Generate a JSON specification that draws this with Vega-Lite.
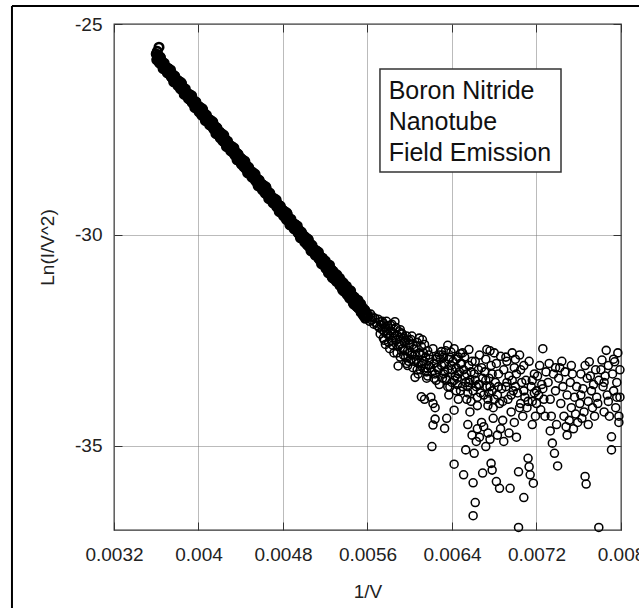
{
  "$schema": "https://vega.github.io/schema/vega-lite/v6.json",
  "width": 507,
  "height": 506,
  "autosize": {"type": "none"},
  "padding": {"left": 114, "top": 24, "right": 18, "bottom": 78},
  "background": "white",
  "config": {
    "font": "Liberation Sans",
    "view": {"stroke": "#333", "strokeWidth": 1.3},
    "axis": {
      "domain": false,
      "grid": true,
      "gridColor": "#777",
      "gridDash": [1, 1],
      "gridWidth": 1,
      "ticks": true,
      "tickSize": -8,
      "tickColor": "#333",
      "tickWidth": 1,
      "labelFont": "Liberation Sans",
      "labelFontSize": 19,
      "labelColor": "#222",
      "labelOverlap": false,
      "labelFlush": false,
      "labelBound": false,
      "titleFont": "Liberation Sans",
      "titleFontSize": 19,
      "titleFontWeight": "normal",
      "titleColor": "#222"
    }
  },
  "data": {
    "values": [
      {"inv_v":0.003626,"ln_iv2":-25.55},{"inv_v":0.00361,"ln_iv2":-25.65},
      {"inv_v":0.0036,"ln_iv2":-25.71},{"inv_v":0.00361,"ln_iv2":-25.83},{"inv_v":0.00362,"ln_iv2":-25.80},{"inv_v":0.00363,"ln_iv2":-25.92},{"inv_v":0.00364,"ln_iv2":-25.80},{"inv_v":0.00365,"ln_iv2":-25.93},{"inv_v":0.00366,"ln_iv2":-25.91},{"inv_v":0.00367,"ln_iv2":-26.04},{"inv_v":0.00368,"ln_iv2":-26.00},{"inv_v":0.00369,"ln_iv2":-26.07},
      {"inv_v":0.0037,"ln_iv2":-26.10},{"inv_v":0.00371,"ln_iv2":-26.05},{"inv_v":0.00372,"ln_iv2":-26.17},{"inv_v":0.00373,"ln_iv2":-26.13},{"inv_v":0.00374,"ln_iv2":-26.24},{"inv_v":0.00375,"ln_iv2":-26.19},{"inv_v":0.00376,"ln_iv2":-26.29},{"inv_v":0.00377,"ln_iv2":-26.23},{"inv_v":0.00378,"ln_iv2":-26.37},{"inv_v":0.00379,"ln_iv2":-26.33},
      {"inv_v":0.0038,"ln_iv2":-26.33},{"inv_v":0.00381,"ln_iv2":-26.45},{"inv_v":0.00382,"ln_iv2":-26.42},{"inv_v":0.00383,"ln_iv2":-26.54},{"inv_v":0.00384,"ln_iv2":-26.42},{"inv_v":0.00385,"ln_iv2":-26.55},{"inv_v":0.00386,"ln_iv2":-26.53},{"inv_v":0.00387,"ln_iv2":-26.66},{"inv_v":0.00388,"ln_iv2":-26.62},{"inv_v":0.00389,"ln_iv2":-26.69},
      {"inv_v":0.0039,"ln_iv2":-26.72},{"inv_v":0.00391,"ln_iv2":-26.67},{"inv_v":0.00392,"ln_iv2":-26.79},{"inv_v":0.00393,"ln_iv2":-26.75},{"inv_v":0.00394,"ln_iv2":-26.86},{"inv_v":0.00395,"ln_iv2":-26.81},{"inv_v":0.00396,"ln_iv2":-26.91},{"inv_v":0.00397,"ln_iv2":-26.85},{"inv_v":0.00398,"ln_iv2":-26.99},{"inv_v":0.00399,"ln_iv2":-26.95},
      {"inv_v":0.004,"ln_iv2":-26.95},{"inv_v":0.00401,"ln_iv2":-27.07},{"inv_v":0.00402,"ln_iv2":-27.04},{"inv_v":0.00403,"ln_iv2":-27.16},{"inv_v":0.00404,"ln_iv2":-27.04},{"inv_v":0.00405,"ln_iv2":-27.17},{"inv_v":0.00406,"ln_iv2":-27.15},{"inv_v":0.00407,"ln_iv2":-27.28},{"inv_v":0.00408,"ln_iv2":-27.24},{"inv_v":0.00409,"ln_iv2":-27.31},
      {"inv_v":0.0041,"ln_iv2":-27.33},{"inv_v":0.00411,"ln_iv2":-27.28},{"inv_v":0.00412,"ln_iv2":-27.40},{"inv_v":0.00413,"ln_iv2":-27.36},{"inv_v":0.00414,"ln_iv2":-27.47},{"inv_v":0.00415,"ln_iv2":-27.42},{"inv_v":0.00416,"ln_iv2":-27.52},{"inv_v":0.00417,"ln_iv2":-27.46},{"inv_v":0.00418,"ln_iv2":-27.60},{"inv_v":0.00419,"ln_iv2":-27.56},
      {"inv_v":0.0042,"ln_iv2":-27.56},{"inv_v":0.00421,"ln_iv2":-27.68},{"inv_v":0.00422,"ln_iv2":-27.65},{"inv_v":0.00423,"ln_iv2":-27.77},{"inv_v":0.00424,"ln_iv2":-27.65},{"inv_v":0.00425,"ln_iv2":-27.78},{"inv_v":0.00426,"ln_iv2":-27.76},{"inv_v":0.00427,"ln_iv2":-27.89},{"inv_v":0.00428,"ln_iv2":-27.85},{"inv_v":0.00429,"ln_iv2":-27.92},
      {"inv_v":0.0043,"ln_iv2":-27.95},{"inv_v":0.00431,"ln_iv2":-27.90},{"inv_v":0.00432,"ln_iv2":-28.02},{"inv_v":0.00433,"ln_iv2":-27.98},{"inv_v":0.00434,"ln_iv2":-28.09},{"inv_v":0.00435,"ln_iv2":-28.04},{"inv_v":0.00436,"ln_iv2":-28.14},{"inv_v":0.00437,"ln_iv2":-28.08},{"inv_v":0.00438,"ln_iv2":-28.22},{"inv_v":0.00439,"ln_iv2":-28.18},
      {"inv_v":0.0044,"ln_iv2":-28.18},{"inv_v":0.00441,"ln_iv2":-28.30},{"inv_v":0.00442,"ln_iv2":-28.27},{"inv_v":0.00443,"ln_iv2":-28.39},{"inv_v":0.00444,"ln_iv2":-28.27},{"inv_v":0.00445,"ln_iv2":-28.40},{"inv_v":0.00446,"ln_iv2":-28.38},{"inv_v":0.00447,"ln_iv2":-28.51},{"inv_v":0.00448,"ln_iv2":-28.47},{"inv_v":0.00449,"ln_iv2":-28.54},
      {"inv_v":0.0045,"ln_iv2":-28.57},{"inv_v":0.00451,"ln_iv2":-28.52},{"inv_v":0.00452,"ln_iv2":-28.64},{"inv_v":0.00453,"ln_iv2":-28.60},{"inv_v":0.00454,"ln_iv2":-28.71},{"inv_v":0.00455,"ln_iv2":-28.66},{"inv_v":0.00456,"ln_iv2":-28.76},{"inv_v":0.00457,"ln_iv2":-28.70},{"inv_v":0.00458,"ln_iv2":-28.84},{"inv_v":0.00459,"ln_iv2":-28.80},
      {"inv_v":0.0046,"ln_iv2":-28.80},{"inv_v":0.00461,"ln_iv2":-28.92},{"inv_v":0.00462,"ln_iv2":-28.89},{"inv_v":0.00463,"ln_iv2":-29.01},{"inv_v":0.00464,"ln_iv2":-28.89},{"inv_v":0.00465,"ln_iv2":-29.02},{"inv_v":0.00466,"ln_iv2":-29.00},{"inv_v":0.00467,"ln_iv2":-29.13},{"inv_v":0.00468,"ln_iv2":-29.09},{"inv_v":0.00469,"ln_iv2":-29.16},
      {"inv_v":0.0047,"ln_iv2":-29.19},{"inv_v":0.00471,"ln_iv2":-29.14},{"inv_v":0.00472,"ln_iv2":-29.26},{"inv_v":0.00473,"ln_iv2":-29.22},{"inv_v":0.00474,"ln_iv2":-29.33},{"inv_v":0.00475,"ln_iv2":-29.28},{"inv_v":0.00476,"ln_iv2":-29.38},{"inv_v":0.00477,"ln_iv2":-29.32},{"inv_v":0.00478,"ln_iv2":-29.46},{"inv_v":0.00479,"ln_iv2":-29.42},
      {"inv_v":0.0048,"ln_iv2":-29.42},{"inv_v":0.00481,"ln_iv2":-29.54},{"inv_v":0.00482,"ln_iv2":-29.51},{"inv_v":0.00483,"ln_iv2":-29.63},{"inv_v":0.00484,"ln_iv2":-29.51},{"inv_v":0.00485,"ln_iv2":-29.64},{"inv_v":0.00486,"ln_iv2":-29.62},{"inv_v":0.00487,"ln_iv2":-29.75},{"inv_v":0.00488,"ln_iv2":-29.71},{"inv_v":0.00489,"ln_iv2":-29.78},
      {"inv_v":0.0049,"ln_iv2":-29.80},{"inv_v":0.00491,"ln_iv2":-29.75},{"inv_v":0.00492,"ln_iv2":-29.87},{"inv_v":0.00493,"ln_iv2":-29.83},{"inv_v":0.00494,"ln_iv2":-29.94},{"inv_v":0.00495,"ln_iv2":-29.89},{"inv_v":0.00496,"ln_iv2":-29.99},{"inv_v":0.00497,"ln_iv2":-29.93},{"inv_v":0.00498,"ln_iv2":-30.07},{"inv_v":0.00499,"ln_iv2":-30.03},
      {"inv_v":0.005,"ln_iv2":-30.03},{"inv_v":0.00501,"ln_iv2":-30.15},{"inv_v":0.00502,"ln_iv2":-30.12},{"inv_v":0.00503,"ln_iv2":-30.24},{"inv_v":0.00504,"ln_iv2":-30.12},{"inv_v":0.00505,"ln_iv2":-30.25},{"inv_v":0.00506,"ln_iv2":-30.23},{"inv_v":0.00507,"ln_iv2":-30.36},{"inv_v":0.00508,"ln_iv2":-30.32},{"inv_v":0.00509,"ln_iv2":-30.39},
      {"inv_v":0.0051,"ln_iv2":-30.42},{"inv_v":0.00511,"ln_iv2":-30.37},{"inv_v":0.00512,"ln_iv2":-30.49},{"inv_v":0.00513,"ln_iv2":-30.45},{"inv_v":0.00514,"ln_iv2":-30.56},{"inv_v":0.00515,"ln_iv2":-30.51},{"inv_v":0.00516,"ln_iv2":-30.61},{"inv_v":0.00517,"ln_iv2":-30.55},{"inv_v":0.00518,"ln_iv2":-30.69},{"inv_v":0.00519,"ln_iv2":-30.65},
      {"inv_v":0.0052,"ln_iv2":-30.62},{"inv_v":0.00521,"ln_iv2":-30.80},{"inv_v":0.00522,"ln_iv2":-30.74},{"inv_v":0.00523,"ln_iv2":-30.90},{"inv_v":0.00524,"ln_iv2":-30.72},{"inv_v":0.00525,"ln_iv2":-30.91},{"inv_v":0.00526,"ln_iv2":-30.83},{"inv_v":0.00527,"ln_iv2":-31.02},{"inv_v":0.00528,"ln_iv2":-30.94},{"inv_v":0.00529,"ln_iv2":-31.05},
      {"inv_v":0.0053,"ln_iv2":-31.06},{"inv_v":0.00531,"ln_iv2":-30.95},{"inv_v":0.00532,"ln_iv2":-31.12},{"inv_v":0.00533,"ln_iv2":-31.05},{"inv_v":0.00534,"ln_iv2":-31.20},{"inv_v":0.00535,"ln_iv2":-31.10},{"inv_v":0.00536,"ln_iv2":-31.26},{"inv_v":0.00537,"ln_iv2":-31.14},{"inv_v":0.00538,"ln_iv2":-31.34},{"inv_v":0.00539,"ln_iv2":-31.24},
      {"inv_v":0.0054,"ln_iv2":-31.22},{"inv_v":0.00541,"ln_iv2":-31.42},{"inv_v":0.00542,"ln_iv2":-31.35},{"inv_v":0.00543,"ln_iv2":-31.50},{"inv_v":0.00544,"ln_iv2":-31.33},{"inv_v":0.00545,"ln_iv2":-31.52},{"inv_v":0.00546,"ln_iv2":-31.45},{"inv_v":0.00547,"ln_iv2":-31.64},{"inv_v":0.00548,"ln_iv2":-31.52},{"inv_v":0.00549,"ln_iv2":-31.66},
      {"inv_v":0.0055,"ln_iv2":-31.70},{"inv_v":0.00551,"ln_iv2":-31.55},{"inv_v":0.00552,"ln_iv2":-31.75},{"inv_v":0.00553,"ln_iv2":-31.68},{"inv_v":0.00554,"ln_iv2":-31.84},{"inv_v":0.00555,"ln_iv2":-31.72},{"inv_v":0.00556,"ln_iv2":-31.90},{"inv_v":0.00557,"ln_iv2":-31.78},{"inv_v":0.00558,"ln_iv2":-31.98},{"inv_v":0.00559,"ln_iv2":-31.86},
      {"inv_v":0.0056,"ln_iv2":-31.94},
      {"inv_v":0.003605,"ln_iv2":-25.85},{"inv_v":0.003615,"ln_iv2":-25.75},{"inv_v":0.003625,"ln_iv2":-25.86},{"inv_v":0.003635,"ln_iv2":-25.78},{"inv_v":0.003645,"ln_iv2":-25.95},{"inv_v":0.003655,"ln_iv2":-25.90},{"inv_v":0.003665,"ln_iv2":-26.06},{"inv_v":0.003675,"ln_iv2":-25.93},{"inv_v":0.003685,"ln_iv2":-26.07},{"inv_v":0.003695,"ln_iv2":-26.05},
      {"inv_v":0.003705,"ln_iv2":-26.16},{"inv_v":0.003715,"ln_iv2":-26.06},{"inv_v":0.003725,"ln_iv2":-26.17},{"inv_v":0.003735,"ln_iv2":-26.09},{"inv_v":0.003745,"ln_iv2":-26.26},{"inv_v":0.003755,"ln_iv2":-26.21},{"inv_v":0.003765,"ln_iv2":-26.37},{"inv_v":0.003775,"ln_iv2":-26.24},{"inv_v":0.003785,"ln_iv2":-26.38},{"inv_v":0.003795,"ln_iv2":-26.36},
      {"inv_v":0.003805,"ln_iv2":-26.46},{"inv_v":0.003815,"ln_iv2":-26.36},{"inv_v":0.003825,"ln_iv2":-26.47},{"inv_v":0.003835,"ln_iv2":-26.39},{"inv_v":0.003845,"ln_iv2":-26.56},{"inv_v":0.003855,"ln_iv2":-26.51},{"inv_v":0.003865,"ln_iv2":-26.67},{"inv_v":0.003875,"ln_iv2":-26.54},{"inv_v":0.003885,"ln_iv2":-26.68},{"inv_v":0.003895,"ln_iv2":-26.66},
      {"inv_v":0.003905,"ln_iv2":-26.77},{"inv_v":0.003915,"ln_iv2":-26.67},{"inv_v":0.003925,"ln_iv2":-26.78},{"inv_v":0.003935,"ln_iv2":-26.70},{"inv_v":0.003945,"ln_iv2":-26.87},{"inv_v":0.003955,"ln_iv2":-26.82},{"inv_v":0.003965,"ln_iv2":-26.98},{"inv_v":0.003975,"ln_iv2":-26.85},{"inv_v":0.003985,"ln_iv2":-26.99},{"inv_v":0.003995,"ln_iv2":-26.97},
      {"inv_v":0.004005,"ln_iv2":-27.08},{"inv_v":0.004015,"ln_iv2":-26.98},{"inv_v":0.004025,"ln_iv2":-27.09},{"inv_v":0.004035,"ln_iv2":-27.01},{"inv_v":0.004045,"ln_iv2":-27.18},{"inv_v":0.004055,"ln_iv2":-27.13},{"inv_v":0.004065,"ln_iv2":-27.29},{"inv_v":0.004075,"ln_iv2":-27.16},{"inv_v":0.004085,"ln_iv2":-27.30},{"inv_v":0.004095,"ln_iv2":-27.28},
      {"inv_v":0.004105,"ln_iv2":-27.39},{"inv_v":0.004115,"ln_iv2":-27.29},{"inv_v":0.004125,"ln_iv2":-27.40},{"inv_v":0.004135,"ln_iv2":-27.32},{"inv_v":0.004145,"ln_iv2":-27.49},{"inv_v":0.004155,"ln_iv2":-27.44},{"inv_v":0.004165,"ln_iv2":-27.60},{"inv_v":0.004175,"ln_iv2":-27.47},{"inv_v":0.004185,"ln_iv2":-27.61},{"inv_v":0.004195,"ln_iv2":-27.59},
      {"inv_v":0.004205,"ln_iv2":-27.70},{"inv_v":0.004215,"ln_iv2":-27.60},{"inv_v":0.004225,"ln_iv2":-27.71},{"inv_v":0.004235,"ln_iv2":-27.63},{"inv_v":0.004245,"ln_iv2":-27.80},{"inv_v":0.004255,"ln_iv2":-27.75},{"inv_v":0.004265,"ln_iv2":-27.91},{"inv_v":0.004275,"ln_iv2":-27.78},{"inv_v":0.004285,"ln_iv2":-27.92},{"inv_v":0.004295,"ln_iv2":-27.90},
      {"inv_v":0.004305,"ln_iv2":-28.01},{"inv_v":0.004315,"ln_iv2":-27.91},{"inv_v":0.004325,"ln_iv2":-28.02},{"inv_v":0.004335,"ln_iv2":-27.94},{"inv_v":0.004345,"ln_iv2":-28.11},{"inv_v":0.004355,"ln_iv2":-28.06},{"inv_v":0.004365,"ln_iv2":-28.22},{"inv_v":0.004375,"ln_iv2":-28.09},{"inv_v":0.004385,"ln_iv2":-28.23},{"inv_v":0.004395,"ln_iv2":-28.21},
      {"inv_v":0.004405,"ln_iv2":-28.32},{"inv_v":0.004415,"ln_iv2":-28.22},{"inv_v":0.004425,"ln_iv2":-28.33},{"inv_v":0.004435,"ln_iv2":-28.25},{"inv_v":0.004445,"ln_iv2":-28.42},{"inv_v":0.004455,"ln_iv2":-28.37},{"inv_v":0.004465,"ln_iv2":-28.53},{"inv_v":0.004475,"ln_iv2":-28.40},{"inv_v":0.004485,"ln_iv2":-28.54},{"inv_v":0.004495,"ln_iv2":-28.52},
      {"inv_v":0.004505,"ln_iv2":-28.63},{"inv_v":0.004515,"ln_iv2":-28.53},{"inv_v":0.004525,"ln_iv2":-28.64},{"inv_v":0.004535,"ln_iv2":-28.56},{"inv_v":0.004545,"ln_iv2":-28.73},{"inv_v":0.004555,"ln_iv2":-28.68},{"inv_v":0.004565,"ln_iv2":-28.84},{"inv_v":0.004575,"ln_iv2":-28.71},{"inv_v":0.004585,"ln_iv2":-28.85},{"inv_v":0.004595,"ln_iv2":-28.83},
      {"inv_v":0.004605,"ln_iv2":-28.93},{"inv_v":0.004615,"ln_iv2":-28.83},{"inv_v":0.004625,"ln_iv2":-28.94},{"inv_v":0.004635,"ln_iv2":-28.86},{"inv_v":0.004645,"ln_iv2":-29.03},{"inv_v":0.004655,"ln_iv2":-28.98},{"inv_v":0.004665,"ln_iv2":-29.14},{"inv_v":0.004675,"ln_iv2":-29.01},{"inv_v":0.004685,"ln_iv2":-29.15},{"inv_v":0.004695,"ln_iv2":-29.13},
      {"inv_v":0.004705,"ln_iv2":-29.24},{"inv_v":0.004715,"ln_iv2":-29.14},{"inv_v":0.004725,"ln_iv2":-29.25},{"inv_v":0.004735,"ln_iv2":-29.17},{"inv_v":0.004745,"ln_iv2":-29.34},{"inv_v":0.004755,"ln_iv2":-29.29},{"inv_v":0.004765,"ln_iv2":-29.45},{"inv_v":0.004775,"ln_iv2":-29.32},{"inv_v":0.004785,"ln_iv2":-29.46},{"inv_v":0.004795,"ln_iv2":-29.44},
      {"inv_v":0.004805,"ln_iv2":-29.55},{"inv_v":0.004815,"ln_iv2":-29.45},{"inv_v":0.004825,"ln_iv2":-29.56},{"inv_v":0.004835,"ln_iv2":-29.48},{"inv_v":0.004845,"ln_iv2":-29.65},{"inv_v":0.004855,"ln_iv2":-29.60},{"inv_v":0.004865,"ln_iv2":-29.76},{"inv_v":0.004875,"ln_iv2":-29.63},{"inv_v":0.004885,"ln_iv2":-29.77},{"inv_v":0.004895,"ln_iv2":-29.75},
      {"inv_v":0.004905,"ln_iv2":-29.86},{"inv_v":0.004915,"ln_iv2":-29.76},{"inv_v":0.004925,"ln_iv2":-29.87},{"inv_v":0.004935,"ln_iv2":-29.79},{"inv_v":0.004945,"ln_iv2":-29.96},{"inv_v":0.004955,"ln_iv2":-29.91},{"inv_v":0.004965,"ln_iv2":-30.07},{"inv_v":0.004975,"ln_iv2":-29.94},{"inv_v":0.004985,"ln_iv2":-30.08},{"inv_v":0.004995,"ln_iv2":-30.06},
      {"inv_v":0.005005,"ln_iv2":-30.17},{"inv_v":0.005015,"ln_iv2":-30.07},{"inv_v":0.005025,"ln_iv2":-30.18},{"inv_v":0.005035,"ln_iv2":-30.10},{"inv_v":0.005045,"ln_iv2":-30.27},{"inv_v":0.005055,"ln_iv2":-30.22},{"inv_v":0.005065,"ln_iv2":-30.38},{"inv_v":0.005075,"ln_iv2":-30.25},{"inv_v":0.005085,"ln_iv2":-30.39},{"inv_v":0.005095,"ln_iv2":-30.37},
      {"inv_v":0.005105,"ln_iv2":-30.48},{"inv_v":0.005115,"ln_iv2":-30.38},{"inv_v":0.005125,"ln_iv2":-30.49},{"inv_v":0.005135,"ln_iv2":-30.41},{"inv_v":0.005145,"ln_iv2":-30.58},{"inv_v":0.005155,"ln_iv2":-30.53},{"inv_v":0.005165,"ln_iv2":-30.69},{"inv_v":0.005175,"ln_iv2":-30.56},{"inv_v":0.005185,"ln_iv2":-30.70},{"inv_v":0.005195,"ln_iv2":-30.68},
      {"inv_v":0.005205,"ln_iv2":-30.79},{"inv_v":0.005215,"ln_iv2":-30.69},{"inv_v":0.005225,"ln_iv2":-30.80},{"inv_v":0.005235,"ln_iv2":-30.72},{"inv_v":0.005245,"ln_iv2":-30.89},{"inv_v":0.005255,"ln_iv2":-30.84},{"inv_v":0.005265,"ln_iv2":-31.00},{"inv_v":0.005275,"ln_iv2":-30.87},{"inv_v":0.005285,"ln_iv2":-31.01},{"inv_v":0.005295,"ln_iv2":-30.99},
      {"inv_v":0.005305,"ln_iv2":-31.10},{"inv_v":0.005315,"ln_iv2":-31.00},{"inv_v":0.005325,"ln_iv2":-31.11},{"inv_v":0.005335,"ln_iv2":-31.03},{"inv_v":0.005345,"ln_iv2":-31.20},{"inv_v":0.005355,"ln_iv2":-31.15},{"inv_v":0.005365,"ln_iv2":-31.31},{"inv_v":0.005375,"ln_iv2":-31.18},{"inv_v":0.005385,"ln_iv2":-31.32},{"inv_v":0.005395,"ln_iv2":-31.30},
      {"inv_v":0.005405,"ln_iv2":-31.40},{"inv_v":0.005415,"ln_iv2":-31.30},{"inv_v":0.005425,"ln_iv2":-31.41},{"inv_v":0.005435,"ln_iv2":-31.33},{"inv_v":0.005445,"ln_iv2":-31.50},{"inv_v":0.005455,"ln_iv2":-31.45},{"inv_v":0.005465,"ln_iv2":-31.61},{"inv_v":0.005475,"ln_iv2":-31.48},{"inv_v":0.005485,"ln_iv2":-31.62},{"inv_v":0.005495,"ln_iv2":-31.60},
      {"inv_v":0.005505,"ln_iv2":-31.71},{"inv_v":0.005515,"ln_iv2":-31.61},{"inv_v":0.005525,"ln_iv2":-31.72},{"inv_v":0.005535,"ln_iv2":-31.64},{"inv_v":0.005545,"ln_iv2":-31.81},{"inv_v":0.005555,"ln_iv2":-31.76},{"inv_v":0.005565,"ln_iv2":-31.92},{"inv_v":0.005575,"ln_iv2":-31.79},{"inv_v":0.005585,"ln_iv2":-31.93},{"inv_v":0.005595,"ln_iv2":-31.91},
      {"inv_v":0.00361,"ln_iv2":-25.76},{"inv_v":0.00363,"ln_iv2":-25.87},{"inv_v":0.00365,"ln_iv2":-25.91},{"inv_v":0.00367,"ln_iv2":-26.01},{"inv_v":0.00369,"ln_iv2":-26.02},{"inv_v":0.00371,"ln_iv2":-26.07},{"inv_v":0.00373,"ln_iv2":-26.18},{"inv_v":0.00375,"ln_iv2":-26.21},{"inv_v":0.00377,"ln_iv2":-26.32},{"inv_v":0.00379,"ln_iv2":-26.33},
      {"inv_v":0.00381,"ln_iv2":-26.38},{"inv_v":0.00383,"ln_iv2":-26.49},{"inv_v":0.00385,"ln_iv2":-26.52},{"inv_v":0.00387,"ln_iv2":-26.63},{"inv_v":0.00389,"ln_iv2":-26.64},{"inv_v":0.00391,"ln_iv2":-26.69},{"inv_v":0.00393,"ln_iv2":-26.80},{"inv_v":0.00395,"ln_iv2":-26.83},{"inv_v":0.00397,"ln_iv2":-26.93},{"inv_v":0.00399,"ln_iv2":-26.95},
      {"inv_v":0.00401,"ln_iv2":-27.00},{"inv_v":0.00403,"ln_iv2":-27.11},{"inv_v":0.00405,"ln_iv2":-27.14},{"inv_v":0.00407,"ln_iv2":-27.24},{"inv_v":0.00409,"ln_iv2":-27.25},{"inv_v":0.00411,"ln_iv2":-27.31},{"inv_v":0.00413,"ln_iv2":-27.42},{"inv_v":0.00415,"ln_iv2":-27.45},{"inv_v":0.00417,"ln_iv2":-27.55},{"inv_v":0.00419,"ln_iv2":-27.56},
      {"inv_v":0.00421,"ln_iv2":-27.61},{"inv_v":0.00423,"ln_iv2":-27.73},{"inv_v":0.00425,"ln_iv2":-27.76},{"inv_v":0.00427,"ln_iv2":-27.86},{"inv_v":0.00429,"ln_iv2":-27.87},{"inv_v":0.00431,"ln_iv2":-27.92},{"inv_v":0.00433,"ln_iv2":-28.04},{"inv_v":0.00435,"ln_iv2":-28.07},{"inv_v":0.00437,"ln_iv2":-28.17},{"inv_v":0.00439,"ln_iv2":-28.18},
      {"inv_v":0.00441,"ln_iv2":-28.23},{"inv_v":0.00443,"ln_iv2":-28.34},{"inv_v":0.00445,"ln_iv2":-28.38},{"inv_v":0.00447,"ln_iv2":-28.48},{"inv_v":0.00449,"ln_iv2":-28.49},{"inv_v":0.00451,"ln_iv2":-28.54},{"inv_v":0.00453,"ln_iv2":-28.65},{"inv_v":0.00455,"ln_iv2":-28.68},{"inv_v":0.00457,"ln_iv2":-28.79},{"inv_v":0.00459,"ln_iv2":-28.80},
      {"inv_v":0.00461,"ln_iv2":-28.85},{"inv_v":0.00463,"ln_iv2":-28.96},{"inv_v":0.00465,"ln_iv2":-28.99},{"inv_v":0.00467,"ln_iv2":-29.10},{"inv_v":0.00469,"ln_iv2":-29.11},{"inv_v":0.00471,"ln_iv2":-29.16},{"inv_v":0.00473,"ln_iv2":-29.27},{"inv_v":0.00475,"ln_iv2":-29.30},{"inv_v":0.00477,"ln_iv2":-29.40},{"inv_v":0.00479,"ln_iv2":-29.42},
      {"inv_v":0.00481,"ln_iv2":-29.47},{"inv_v":0.00483,"ln_iv2":-29.58},{"inv_v":0.00485,"ln_iv2":-29.61},{"inv_v":0.00487,"ln_iv2":-29.71},{"inv_v":0.00489,"ln_iv2":-29.72},{"inv_v":0.00491,"ln_iv2":-29.78},{"inv_v":0.00493,"ln_iv2":-29.89},{"inv_v":0.00495,"ln_iv2":-29.92},{"inv_v":0.00497,"ln_iv2":-30.02},{"inv_v":0.00499,"ln_iv2":-30.03},
      {"inv_v":0.00501,"ln_iv2":-30.08},{"inv_v":0.00503,"ln_iv2":-30.20},{"inv_v":0.00505,"ln_iv2":-30.23},{"inv_v":0.00507,"ln_iv2":-30.33},{"inv_v":0.00509,"ln_iv2":-30.34},{"inv_v":0.00511,"ln_iv2":-30.39},{"inv_v":0.00513,"ln_iv2":-30.50},{"inv_v":0.00515,"ln_iv2":-30.54},{"inv_v":0.00517,"ln_iv2":-30.64},{"inv_v":0.00519,"ln_iv2":-30.65},
      {"inv_v":0.00521,"ln_iv2":-30.70},{"inv_v":0.00523,"ln_iv2":-30.81},{"inv_v":0.00525,"ln_iv2":-30.85},{"inv_v":0.00527,"ln_iv2":-30.95},{"inv_v":0.00529,"ln_iv2":-30.96},{"inv_v":0.00531,"ln_iv2":-31.01},{"inv_v":0.00533,"ln_iv2":-31.12},{"inv_v":0.00535,"ln_iv2":-31.15},{"inv_v":0.00537,"ln_iv2":-31.26},{"inv_v":0.00539,"ln_iv2":-31.27},
      {"inv_v":0.00541,"ln_iv2":-31.32},{"inv_v":0.00543,"ln_iv2":-31.43},{"inv_v":0.00545,"ln_iv2":-31.46},{"inv_v":0.00547,"ln_iv2":-31.56},{"inv_v":0.00549,"ln_iv2":-31.58},{"inv_v":0.00551,"ln_iv2":-31.63},{"inv_v":0.00553,"ln_iv2":-31.74},{"inv_v":0.00555,"ln_iv2":-31.77},{"inv_v":0.00557,"ln_iv2":-31.87},{"inv_v":0.00559,"ln_iv2":-31.88},
      {"inv_v":0.00561,"ln_iv2":-31.92},{"inv_v":0.00562,"ln_iv2":-32.05},{"inv_v":0.00563,"ln_iv2":-31.88},{"inv_v":0.00564,"ln_iv2":-32.02},{"inv_v":0.00565,"ln_iv2":-31.95},{"inv_v":0.00566,"ln_iv2":-32.12},{"inv_v":0.00567,"ln_iv2":-31.98},{"inv_v":0.00568,"ln_iv2":-32.08},{"inv_v":0.00569,"ln_iv2":-32.15},{"inv_v":0.0057,"ln_iv2":-32.0},
      {"inv_v":0.00571,"ln_iv2":-32.2},{"inv_v":0.00572,"ln_iv2":-32.06},{"inv_v":0.00573,"ln_iv2":-32.14},{"inv_v":0.00574,"ln_iv2":-32.25},{"inv_v":0.00575,"ln_iv2":-32.1},{"inv_v":0.00576,"ln_iv2":-32.3},{"inv_v":0.00577,"ln_iv2":-32.18},{"inv_v":0.00578,"ln_iv2":-32.05},{"inv_v":0.00579,"ln_iv2":-32.36},{"inv_v":0.0058,"ln_iv2":-32.22},
      {"inv_v":0.00581,"ln_iv2":-32.4},{"inv_v":0.00582,"ln_iv2":-32.28},{"inv_v":0.00583,"ln_iv2":-32.12},{"inv_v":0.00584,"ln_iv2":-32.45},{"inv_v":0.00585,"ln_iv2":-32.33},{"inv_v":0.00586,"ln_iv2":-32.06},{"inv_v":0.00587,"ln_iv2":-32.5},{"inv_v":0.00588,"ln_iv2":-32.38},{"inv_v":0.00589,"ln_iv2":-33.11},{"inv_v":0.0059,"ln_iv2":-32.6},
      {"inv_v":0.00591,"ln_iv2":-32.25},{"inv_v":0.00592,"ln_iv2":-32.33},{"inv_v":0.00593,"ln_iv2":-32.7},{"inv_v":0.00594,"ln_iv2":-32.45},{"inv_v":0.00595,"ln_iv2":-32.55},{"inv_v":0.00596,"ln_iv2":-32.9},{"inv_v":0.00597,"ln_iv2":-32.4},{"inv_v":0.00598,"ln_iv2":-32.75},{"inv_v":0.00599,"ln_iv2":-33.0},{"inv_v":0.006,"ln_iv2":-32.6},
      {"inv_v":0.00601,"ln_iv2":-32.48},{"inv_v":0.00602,"ln_iv2":-32.85},{"inv_v":0.00603,"ln_iv2":-33.15},{"inv_v":0.00604,"ln_iv2":-32.7},{"inv_v":0.00605,"ln_iv2":-33.38},{"inv_v":0.00606,"ln_iv2":-32.95},{"inv_v":0.00607,"ln_iv2":-32.55},{"inv_v":0.00608,"ln_iv2":-33.05},{"inv_v":0.00609,"ln_iv2":-32.8},{"inv_v":0.0061,"ln_iv2":-33.2},
      {"inv_v":0.00611,"ln_iv2":-32.65},{"inv_v":0.00612,"ln_iv2":-32.49},{"inv_v":0.00613,"ln_iv2":-33.0},{"inv_v":0.00614,"ln_iv2":-33.9},{"inv_v":0.00615,"ln_iv2":-32.9},{"inv_v":0.00616,"ln_iv2":-33.25},{"inv_v":0.00617,"ln_iv2":-32.75},{"inv_v":0.00618,"ln_iv2":-33.1},{"inv_v":0.0062,"ln_iv2":-33.85},{"inv_v":0.00621,"ln_iv2":-35.02},
      {"inv_v":0.00622,"ln_iv2":-34.0},{"inv_v":0.00623,"ln_iv2":-33.4},{"inv_v":0.00624,"ln_iv2":-34.1},{"inv_v":0.00625,"ln_iv2":-32.95},{"inv_v":0.00626,"ln_iv2":-33.15},{"inv_v":0.00628,"ln_iv2":-32.85},{"inv_v":0.0063,"ln_iv2":-32.77},{"inv_v":0.00611,"ln_iv2":-33.84},{"inv_v":0.00622,"ln_iv2":-34.51},{"inv_v":0.00624,"ln_iv2":-34.37},
      {"inv_v":0.00572,"ln_iv2":-32.35},{"inv_v":0.00574,"ln_iv2":-32.05},{"inv_v":0.00576,"ln_iv2":-32.5},{"inv_v":0.00578,"ln_iv2":-32.28},{"inv_v":0.0058,"ln_iv2":-32.55},{"inv_v":0.00582,"ln_iv2":-32.15},{"inv_v":0.00584,"ln_iv2":-32.62},{"inv_v":0.00586,"ln_iv2":-32.4},{"inv_v":0.00588,"ln_iv2":-32.8},{"inv_v":0.0059,"ln_iv2":-32.3},
      {"inv_v":0.00592,"ln_iv2":-32.58},{"inv_v":0.00594,"ln_iv2":-32.85},{"inv_v":0.00596,"ln_iv2":-32.5},{"inv_v":0.00598,"ln_iv2":-33.1},{"inv_v":0.006,"ln_iv2":-32.8},{"inv_v":0.00602,"ln_iv2":-32.4},{"inv_v":0.00604,"ln_iv2":-33.0},{"inv_v":0.00606,"ln_iv2":-32.65},{"inv_v":0.00608,"ln_iv2":-33.3},{"inv_v":0.0061,"ln_iv2":-32.85},
      {"inv_v":0.00612,"ln_iv2":-33.05},{"inv_v":0.00614,"ln_iv2":-32.6},{"inv_v":0.00616,"ln_iv2":-33.4},{"inv_v":0.00618,"ln_iv2":-32.85},{"inv_v":0.0062,"ln_iv2":-33.15},{"inv_v":0.00622,"ln_iv2":-32.7},{"inv_v":0.00624,"ln_iv2":-33.3},{"inv_v":0.00626,"ln_iv2":-32.9},{"inv_v":0.00628,"ln_iv2":-33.55},{"inv_v":0.0063,"ln_iv2":-33.1},
      {"inv_v":0.00632,"ln_iv2":-32.9},{"inv_v":0.00634,"ln_iv2":-33.4},{"inv_v":0.00636,"ln_iv2":-33.6},{"inv_v":0.00638,"ln_iv2":-32.9},{"inv_v":0.0064,"ln_iv2":-33.2},{"inv_v":0.00642,"ln_iv2":-33.45},{"inv_v":0.00644,"ln_iv2":-33.7},{"inv_v":0.00646,"ln_iv2":-33.3},{"inv_v":0.00648,"ln_iv2":-33.05},{"inv_v":0.0065,"ln_iv2":-33.6},
      {"inv_v":0.00652,"ln_iv2":-33.35},{"inv_v":0.00654,"ln_iv2":-33.9},{"inv_v":0.00656,"ln_iv2":-33.5},{"inv_v":0.00658,"ln_iv2":-33.25},{"inv_v":0.0066,"ln_iv2":-33.7},{"inv_v":0.00662,"ln_iv2":-33.45},{"inv_v":0.00664,"ln_iv2":-33.85},{"inv_v":0.00666,"ln_iv2":-33.55},{"inv_v":0.00668,"ln_iv2":-33.15},{"inv_v":0.0067,"ln_iv2":-33.8},
      {"inv_v":0.00672,"ln_iv2":-33.45},{"inv_v":0.00674,"ln_iv2":-34.05},{"inv_v":0.00676,"ln_iv2":-33.6},{"inv_v":0.00678,"ln_iv2":-33.3},{"inv_v":0.0068,"ln_iv2":-33.9},{"inv_v":0.00684,"ln_iv2":-33.6},{"inv_v":0.00688,"ln_iv2":-33.95},{"inv_v":0.00692,"ln_iv2":-33.5},{"inv_v":0.00696,"ln_iv2":-33.8},{"inv_v":0.007,"ln_iv2":-33.6},
      {"inv_v":0.00704,"ln_iv2":-34.1},{"inv_v":0.00708,"ln_iv2":-33.7},{"inv_v":0.00712,"ln_iv2":-33.95},{"inv_v":0.00716,"ln_iv2":-33.45},{"inv_v":0.0072,"ln_iv2":-33.7},
      {"inv_v":0.00575,"ln_iv2":-32.45},{"inv_v":0.00577,"ln_iv2":-32.6},{"inv_v":0.00579,"ln_iv2":-32.15},{"inv_v":0.00581,"ln_iv2":-32.7},{"inv_v":0.00583,"ln_iv2":-32.5},{"inv_v":0.00585,"ln_iv2":-32.8},{"inv_v":0.00587,"ln_iv2":-32.2},{"inv_v":0.00589,"ln_iv2":-32.65},{"inv_v":0.00591,"ln_iv2":-32.9},{"inv_v":0.00593,"ln_iv2":-32.35},
      {"inv_v":0.00595,"ln_iv2":-32.75},{"inv_v":0.00597,"ln_iv2":-33.05},{"inv_v":0.00599,"ln_iv2":-32.5},{"inv_v":0.00601,"ln_iv2":-32.95},{"inv_v":0.00603,"ln_iv2":-32.6},{"inv_v":0.00605,"ln_iv2":-32.85},{"inv_v":0.00607,"ln_iv2":-33.2},{"inv_v":0.00609,"ln_iv2":-32.45},{"inv_v":0.00611,"ln_iv2":-33.1},{"inv_v":0.00613,"ln_iv2":-32.8},
      {"inv_v":0.00615,"ln_iv2":-33.15},{"inv_v":0.00617,"ln_iv2":-33.35},{"inv_v":0.00619,"ln_iv2":-32.95},{"inv_v":0.00621,"ln_iv2":-33.25},{"inv_v":0.00623,"ln_iv2":-33.05},{"inv_v":0.00625,"ln_iv2":-33.45},{"inv_v":0.00627,"ln_iv2":-33.2},{"inv_v":0.00629,"ln_iv2":-32.95},{"inv_v":0.00631,"ln_iv2":-33.4},{"inv_v":0.00633,"ln_iv2":-33.25},
      {"inv_v":0.00645,"ln_iv2":-33.4},{"inv_v":0.00655,"ln_iv2":-33.6},{"inv_v":0.00665,"ln_iv2":-33.55},{"inv_v":0.00675,"ln_iv2":-33.75},
      {"inv_v":0.00631,"ln_iv2":-32.85},{"inv_v":0.00632,"ln_iv2":-33.3},{"inv_v":0.00633,"ln_iv2":-33.05},{"inv_v":0.00634,"ln_iv2":-32.75},{"inv_v":0.00635,"ln_iv2":-33.45},{"inv_v":0.00636,"ln_iv2":-33.2},{"inv_v":0.00637,"ln_iv2":-32.95},{"inv_v":0.00638,"ln_iv2":-33.6},{"inv_v":0.00639,"ln_iv2":-33.1},{"inv_v":0.00633,"ln_iv2":-34.59},{"inv_v":0.00635,"ln_iv2":-34.35},{"inv_v":0.00637,"ln_iv2":-33.8},{"inv_v":0.00636,"ln_iv2":-32.62},{"inv_v":0.00639,"ln_iv2":-32.78},
      {"inv_v":0.00641,"ln_iv2":-33.0},{"inv_v":0.00642,"ln_iv2":-32.7},{"inv_v":0.00643,"ln_iv2":-33.35},{"inv_v":0.00644,"ln_iv2":-33.15},{"inv_v":0.00645,"ln_iv2":-33.55},{"inv_v":0.00646,"ln_iv2":-32.9},{"inv_v":0.00647,"ln_iv2":-33.25},{"inv_v":0.00648,"ln_iv2":-33.7},{"inv_v":0.00649,"ln_iv2":-33.05},{"inv_v":0.00642,"ln_iv2":-34.16},{"inv_v":0.00642,"ln_iv2":-35.44},{"inv_v":0.00646,"ln_iv2":-33.9},{"inv_v":0.00648,"ln_iv2":-32.82},{"inv_v":0.0064,"ln_iv2":-33.5},{"inv_v":0.00644,"ln_iv2":-32.95},
      {"inv_v":0.00651,"ln_iv2":-33.2},{"inv_v":0.00652,"ln_iv2":-32.9},{"inv_v":0.00653,"ln_iv2":-33.5},{"inv_v":0.00654,"ln_iv2":-33.3},{"inv_v":0.00655,"ln_iv2":-33.75},{"inv_v":0.00656,"ln_iv2":-33.1},{"inv_v":0.00657,"ln_iv2":-33.45},{"inv_v":0.00658,"ln_iv2":-33.95},{"inv_v":0.00659,"ln_iv2":-33.0},{"inv_v":0.00651,"ln_iv2":-35.69},{"inv_v":0.00653,"ln_iv2":-35.1},{"inv_v":0.00655,"ln_iv2":-34.5},{"inv_v":0.00657,"ln_iv2":-34.2},{"inv_v":0.00659,"ln_iv2":-34.75},{"inv_v":0.0065,"ln_iv2":-32.8},{"inv_v":0.00656,"ln_iv2":-32.72},
      {"inv_v":0.0066,"ln_iv2":-35.88},{"inv_v":0.00662,"ln_iv2":-36.35},{"inv_v":0.0066,"ln_iv2":-36.66},{"inv_v":0.00661,"ln_iv2":-35.18},{"inv_v":0.00663,"ln_iv2":-34.9},{"inv_v":0.00664,"ln_iv2":-34.6},{"inv_v":0.00666,"ln_iv2":-34.8},{"inv_v":0.00668,"ln_iv2":-34.45},{"inv_v":0.00661,"ln_iv2":-33.3},{"inv_v":0.00662,"ln_iv2":-33.0},{"inv_v":0.00663,"ln_iv2":-33.6},{"inv_v":0.00665,"ln_iv2":-33.2},{"inv_v":0.00666,"ln_iv2":-32.85},{"inv_v":0.00667,"ln_iv2":-33.75},{"inv_v":0.00669,"ln_iv2":-33.4},{"inv_v":0.00669,"ln_iv2":-35.65},{"inv_v":0.00664,"ln_iv2":-34.05},
      {"inv_v":0.00671,"ln_iv2":-33.25},{"inv_v":0.00672,"ln_iv2":-32.95},{"inv_v":0.00673,"ln_iv2":-33.6},{"inv_v":0.00674,"ln_iv2":-33.9},{"inv_v":0.00675,"ln_iv2":-33.4},{"inv_v":0.00676,"ln_iv2":-32.75},{"inv_v":0.00677,"ln_iv2":-33.1},{"inv_v":0.00678,"ln_iv2":-33.7},{"inv_v":0.00679,"ln_iv2":-34.1},{"inv_v":0.00672,"ln_iv2":-35.02},{"inv_v":0.00677,"ln_iv2":-35.42},{"inv_v":0.00678,"ln_iv2":-35.58},{"inv_v":0.00674,"ln_iv2":-34.7},{"inv_v":0.00676,"ln_iv2":-34.85},{"inv_v":0.0067,"ln_iv2":-34.55},{"inv_v":0.00679,"ln_iv2":-34.35},{"inv_v":0.00673,"ln_iv2":-32.72},
      {"inv_v":0.00681,"ln_iv2":-33.5},{"inv_v":0.00682,"ln_iv2":-33.05},{"inv_v":0.00683,"ln_iv2":-33.8},{"inv_v":0.00684,"ln_iv2":-33.3},{"inv_v":0.00685,"ln_iv2":-34.0},{"inv_v":0.00686,"ln_iv2":-32.88},{"inv_v":0.00687,"ln_iv2":-33.65},{"inv_v":0.00688,"ln_iv2":-34.4},{"inv_v":0.00689,"ln_iv2":-33.2},{"inv_v":0.00682,"ln_iv2":-35.85},{"inv_v":0.00685,"ln_iv2":-36.01},{"inv_v":0.00683,"ln_iv2":-34.75},{"inv_v":0.00686,"ln_iv2":-34.6},{"inv_v":0.00689,"ln_iv2":-34.9},{"inv_v":0.0068,"ln_iv2":-32.8},
      {"inv_v":0.00691,"ln_iv2":-33.6},{"inv_v":0.00692,"ln_iv2":-33.0},{"inv_v":0.00693,"ln_iv2":-33.9},{"inv_v":0.00694,"ln_iv2":-33.35},{"inv_v":0.00695,"ln_iv2":-36.01},{"inv_v":0.00696,"ln_iv2":-34.2},{"inv_v":0.00697,"ln_iv2":-32.8},{"inv_v":0.00698,"ln_iv2":-33.7},{"inv_v":0.00699,"ln_iv2":-34.45},{"inv_v":0.00691,"ln_iv2":-32.9},{"inv_v":0.00694,"ln_iv2":-34.7},{"inv_v":0.00697,"ln_iv2":-33.45},{"inv_v":0.00699,"ln_iv2":-33.15},
      {"inv_v":0.00701,"ln_iv2":-33.3},{"inv_v":0.00702,"ln_iv2":-33.75},{"inv_v":0.00703,"ln_iv2":-36.94},{"inv_v":0.00703,"ln_iv2":-35.62},{"inv_v":0.00704,"ln_iv2":-32.85},{"inv_v":0.00705,"ln_iv2":-34.0},{"inv_v":0.00706,"ln_iv2":-33.5},{"inv_v":0.00707,"ln_iv2":-34.3},{"inv_v":0.00708,"ln_iv2":-36.23},{"inv_v":0.00708,"ln_iv2":-33.1},{"inv_v":0.00709,"ln_iv2":-33.85},{"inv_v":0.00701,"ln_iv2":-34.8},{"inv_v":0.00705,"ln_iv2":-33.2},{"inv_v":0.007,"ln_iv2":-32.95},
      {"inv_v":0.00711,"ln_iv2":-34.1},{"inv_v":0.00712,"ln_iv2":-35.3},{"inv_v":0.00713,"ln_iv2":-35.5},{"inv_v":0.00714,"ln_iv2":-35.69},{"inv_v":0.00715,"ln_iv2":-33.6},{"inv_v":0.00716,"ln_iv2":-33.95},{"inv_v":0.00717,"ln_iv2":-35.89},{"inv_v":0.00718,"ln_iv2":-33.3},{"inv_v":0.00719,"ln_iv2":-34.3},{"inv_v":0.00713,"ln_iv2":-33.0},{"inv_v":0.00716,"ln_iv2":-34.5},{"inv_v":0.0071,"ln_iv2":-33.45},{"inv_v":0.00718,"ln_iv2":-33.75},
      {"inv_v":0.00721,"ln_iv2":-33.35},{"inv_v":0.00722,"ln_iv2":-33.8},{"inv_v":0.00723,"ln_iv2":-33.1},{"inv_v":0.00724,"ln_iv2":-34.15},{"inv_v":0.00725,"ln_iv2":-33.55},{"inv_v":0.00726,"ln_iv2":-32.7},{"inv_v":0.00727,"ln_iv2":-33.9},{"inv_v":0.00728,"ln_iv2":-34.3},{"inv_v":0.00729,"ln_iv2":-33.25},{"inv_v":0.0072,"ln_iv2":-34.0},{"inv_v":0.00726,"ln_iv2":-33.65},
      {"inv_v":0.00731,"ln_iv2":-33.5},{"inv_v":0.00732,"ln_iv2":-33.05},{"inv_v":0.00733,"ln_iv2":-33.9},{"inv_v":0.00734,"ln_iv2":-34.3},{"inv_v":0.00735,"ln_iv2":-34.94},{"inv_v":0.00736,"ln_iv2":-33.3},{"inv_v":0.00737,"ln_iv2":-35.18},{"inv_v":0.00738,"ln_iv2":-33.7},{"inv_v":0.00739,"ln_iv2":-34.5},{"inv_v":0.0074,"ln_iv2":-35.48},{"inv_v":0.00733,"ln_iv2":-34.65},{"inv_v":0.00738,"ln_iv2":-33.15},
      {"inv_v":0.00741,"ln_iv2":-33.4},{"inv_v":0.00743,"ln_iv2":-34.0},{"inv_v":0.00744,"ln_iv2":-33.0},{"inv_v":0.00745,"ln_iv2":-33.6},{"inv_v":0.00746,"ln_iv2":-34.3},{"inv_v":0.00747,"ln_iv2":-33.25},{"inv_v":0.00748,"ln_iv2":-34.55},{"inv_v":0.00749,"ln_iv2":-33.8},{"inv_v":0.00742,"ln_iv2":-33.15},{"inv_v":0.00749,"ln_iv2":-34.75},
      {"inv_v":0.00751,"ln_iv2":-34.4},{"inv_v":0.00752,"ln_iv2":-33.5},{"inv_v":0.00753,"ln_iv2":-34.1},{"inv_v":0.00754,"ln_iv2":-33.3},{"inv_v":0.00755,"ln_iv2":-34.6},{"inv_v":0.00756,"ln_iv2":-33.85},{"inv_v":0.00757,"ln_iv2":-34.25},{"inv_v":0.00758,"ln_iv2":-33.6},{"inv_v":0.00759,"ln_iv2":-34.45},{"inv_v":0.00753,"ln_iv2":-33.1},
      {"inv_v":0.00761,"ln_iv2":-34.0},{"inv_v":0.00762,"ln_iv2":-33.3},{"inv_v":0.00763,"ln_iv2":-34.35},{"inv_v":0.00764,"ln_iv2":-33.65},{"inv_v":0.00765,"ln_iv2":-34.2},{"inv_v":0.00766,"ln_iv2":-35.73},{"inv_v":0.00767,"ln_iv2":-35.91},{"inv_v":0.00768,"ln_iv2":-33.4},{"inv_v":0.00769,"ln_iv2":-34.5},{"inv_v":0.00762,"ln_iv2":-33.8},{"inv_v":0.00766,"ln_iv2":-33.1},{"inv_v":0.00769,"ln_iv2":-33.95},
      {"inv_v":0.0077,"ln_iv2":-33.01},{"inv_v":0.00771,"ln_iv2":-33.35},{"inv_v":0.00772,"ln_iv2":-33.7},{"inv_v":0.00773,"ln_iv2":-34.1},{"inv_v":0.00774,"ln_iv2":-33.55},{"inv_v":0.00775,"ln_iv2":-34.3},{"inv_v":0.00776,"ln_iv2":-33.2},{"inv_v":0.00777,"ln_iv2":-33.85},{"inv_v":0.00779,"ln_iv2":-36.94},{"inv_v":0.00778,"ln_iv2":-34.0},{"inv_v":0.00779,"ln_iv2":-33.45},
      {"inv_v":0.00781,"ln_iv2":-33.2},{"inv_v":0.00782,"ln_iv2":-32.97},{"inv_v":0.00783,"ln_iv2":-33.6},{"inv_v":0.00784,"ln_iv2":-34.2},{"inv_v":0.00785,"ln_iv2":-33.35},{"inv_v":0.00786,"ln_iv2":-32.74},{"inv_v":0.00787,"ln_iv2":-33.8},{"inv_v":0.00788,"ln_iv2":-33.1},{"inv_v":0.00789,"ln_iv2":-34.3},{"inv_v":0.00784,"ln_iv2":-33.5},{"inv_v":0.00788,"ln_iv2":-33.95},
      {"inv_v":0.00791,"ln_iv2":-34.79},{"inv_v":0.00791,"ln_iv2":-35.1},{"inv_v":0.00792,"ln_iv2":-33.3},{"inv_v":0.00793,"ln_iv2":-33.7},{"inv_v":0.00794,"ln_iv2":-33.01},{"inv_v":0.00795,"ln_iv2":-34.1},{"inv_v":0.00796,"ln_iv2":-33.5},{"inv_v":0.00797,"ln_iv2":-32.8},{"inv_v":0.00798,"ln_iv2":-34.3},{"inv_v":0.00799,"ln_iv2":-33.2},{"inv_v":0.00799,"ln_iv2":-33.85},{"inv_v":0.00796,"ln_iv2":-33.85},{"inv_v":0.00798,"ln_iv2":-34.45},{"inv_v":0.00793,"ln_iv2":-32.95}
    ]
  },
  "resolve": {"axis": {"x": "independent", "y": "independent"}},
  "layer": [
    {
      "transform": [{"filter": "datum.inv_v >= 0.005605"}],
      "mark": {"type": "point", "shape": "circle", "filled": false, "size": 64, "strokeWidth": 1.55, "color": "#000", "opacity": 1},
      "encoding": {
        "x": {
          "field": "inv_v", "type": "quantitative",
          "scale": {"domain": [0.0032, 0.008], "nice": false, "zero": false},
          "axis": {"orient": "bottom", "values": [0.0032, 0.004, 0.0048, 0.0056, 0.0064, 0.0072, 0.008], "format": "~g", "labelPadding": 23, "title": "1/V", "titleY": 67, "titleBaseline": "alphabetic"}
        },
        "y": {
          "field": "ln_iv2", "type": "quantitative",
          "scale": {"domain": [-37, -25], "nice": false, "zero": false},
          "axis": {"orient": "left", "values": [-35, -30, -25], "labelExpr": "replace(datum.label, '\u2212', '-')", "labelPadding": 20, "title": "Ln(I/V^2)", "titleX": -61, "titleY": 223, "titleBaseline": "alphabetic"}
        }
      }
    },
    {
      "transform": [{"filter": "datum.inv_v < 0.005605"}],
      "mark": {"type": "point", "shape": "circle", "filled": false, "size": 72, "strokeWidth": 2.6, "color": "#000", "opacity": 1},
      "encoding": {
        "x": {"field": "inv_v", "type": "quantitative", "axis": null},
        "y": {"field": "ln_iv2", "type": "quantitative", "axis": null}
      }
    },
    {
      "mark": {"type": "point", "opacity": 0},
      "encoding": {
        "x": {"field": "inv_v", "type": "quantitative", "axis": {"orient": "top", "values": [0.0032, 0.004, 0.0048, 0.0056, 0.0064, 0.0072, 0.008], "labels": false, "grid": false, "title": null}},
        "y": {"field": "ln_iv2", "type": "quantitative", "axis": {"orient": "right", "values": [-35, -30, -25], "labels": false, "grid": false, "title": null}}
      }
    },
    {
      "data": {"values": [{}]},
      "mark": {"type": "rect", "fill": "white", "stroke": "#333", "strokeWidth": 1.5},
      "encoding": {
        "x": {"datum": 0.005718, "axis": null},
        "x2": {"datum": 0.007432},
        "y": {"datum": -26.067, "axis": null},
        "y2": {"datum": -28.51}
      }
    },
    {
      "data": {"values": [{}]},
      "mark": {"type": "text", "text": ["Boron Nitride", "Nanotube", "Field Emission"], "align": "left", "baseline": "alphabetic", "font": "Liberation Sans", "fontSize": 25, "lineHeight": 31, "color": "#111"},
      "encoding": {
        "x": {"datum": 0.0058, "axis": null},
        "y": {"datum": -26.779, "axis": null}
      }
    },
    {
      "data": {"values": [{}]},
      "mark": {"type": "rule", "color": "#000", "strokeWidth": 2},
      "encoding": {
        "x": {"datum": 0.002234, "axis": null},
        "y": {"datum": -24.573, "axis": null},
        "y2": {"datum": -39.5}
      }
    },
    {
      "data": {"values": [{}]},
      "mark": {"type": "rule", "color": "#000", "strokeWidth": 2},
      "encoding": {
        "x": {"datum": 0.002234, "axis": null},
        "x2": {"datum": 0.0086},
        "y": {"datum": -24.573, "axis": null}
      }
    }
  ]
}
